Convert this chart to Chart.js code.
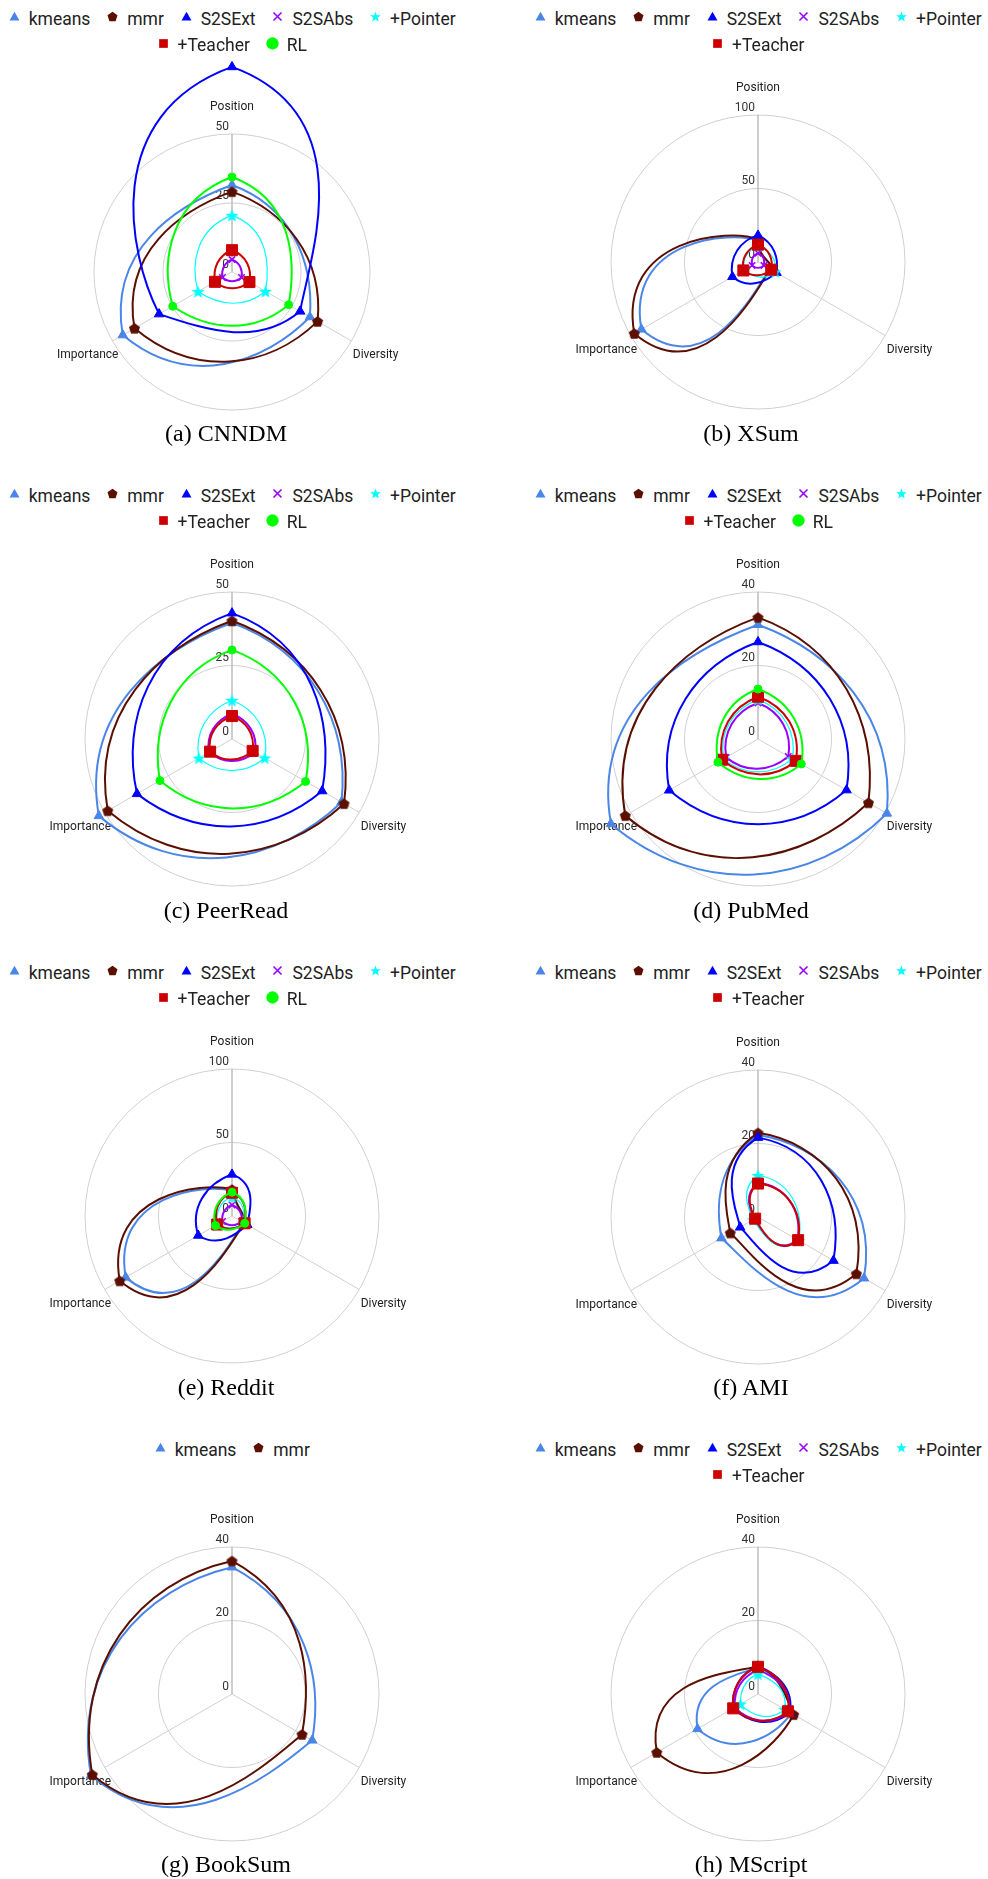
<!DOCTYPE html>
<html>
<head>
<meta charset="utf-8">
<title>Radar profiles of summarisation systems</title>
<script src="https://cdn.jsdelivr.net/npm/chart.js@4.4.1/dist/chart.umd.min.js"></script>
<style>
  html, body { margin: 0; padding: 0; background: #fff; }
  #page { position: relative; width: 988px; height: 1879px; overflow: hidden; }
  #page canvas.radar { position: absolute; }
  .legend-row { position: absolute; height: 26.7px; display: flex; justify-content: center; align-items: center; white-space: nowrap; }
  .legend-item { display: flex; align-items: center; }
  .legend-item + .legend-item { margin-left: 16.3px; }
  .legend-item canvas { width: 13px; height: 13px; margin-left: -0.5px; margin-right: 8px; position: relative; top: -2.5px; }
  .legend-item span { font-family: Roboto, sans-serif; font-size: 17.5px; line-height: 26.7px; color: #222; }
  .caption { position: absolute; width: 300px; text-align: center; font-family: "Liberation Serif", "Times New Roman", serif; font-size: 24px; line-height: 30px; color: #000; }
</style>
</head>
<body>
<div id="page"></div>
<script>
// Axes of every radar, clockwise from the top
const axes = ['Position', 'Diversity', 'Importance'];
// Systems in legend order
const methods = ['kmeans', 'mmr', 'S2SExt', 'S2SAbs', '+Pointer', '+Teacher', 'RL'];
const captions = ['(a) CNNDM', '(b) XSum', '(c) PeerRead', '(d) PubMed', '(e) Reddit', '(f) AMI', '(g) BookSum', '(h) MScript'];
const scaleMax = [50, 100, 50, 40, 100, 40, 40, 40];
const scaleStep = [25, 50, 25, 20, 50, 20, 20, 20];

// Scores per corpus: one row per system (legend order), columns follow `axes`
const cnndm = [
  [31.5, 32.6, 45.7],
  [29.1, 35.8, 40.8],
  [74.3, 28.5, 30.5],
  [4.5, 4.0, 4.0],
  [20.5, 14.0, 14.2],
  [7.9, 7.3, 7.1],
  [34.4, 23.7, 24.8]
];
const xsum = [
  [14.5, 9.5, 91.6],
  [15.5, 10.0, 97.2],
  [18.1, 14.5, 20.1],
  [6.0, 4.7, 4.7],
  [11.0, 13.5, 11.0],
  [11.8, 10.5, 11.5]
];
const peerread = [
  [39.5, 43.0, 52.3],
  [40.2, 44.0, 48.8],
  [42.8, 35.4, 37.3],
  [8.5, 9.0, 9.0],
  [13.1, 12.9, 13.0],
  [7.8, 8.1, 8.6],
  [30.3, 28.9, 28.3]
];
const pubmed = [
  [31.1, 40.5, 46.2],
  [33.1, 34.7, 41.7],
  [26.4, 27.8, 27.9],
  [9.8, 9.5, 10.0],
  [10.7, 10.8, 10.8],
  [11.5, 11.9, 11.3],
  [13.6, 13.6, 12.6]
];
const reddit = [
  [17.0, 9.5, 83.5],
  [18.0, 10.0, 88.2],
  [28.3, 12.0, 26.5],
  [7.5, 7.5, 7.5],
  [13.0, 9.0, 11.0],
  [15.8, 9.9, 11.6],
  [16.2, 10.0, 13.0]
];
const ami = [
  [22.3, 33.3, 11.5],
  [22.9, 30.9, 8.7],
  [21.6, 23.7, 5.6],
  [9.3, 12.4, 1.2],
  [11.3, 12.8, 1.5],
  [9.1, 12.6, 0.9]
];
const booksum = [
  [34.5, 25.2, 44.3],
  [36.2, 22.0, 43.9]
];
const mscript = [
  [7.2, 10.5, 19.0],
  [7.6, 11.2, 31.8],
  [7.5, 10.0, 7.8],
  [6.5, 9.6, 7.3],
  [5.4, 8.4, 5.5],
  [7.4, 9.4, 7.8]
];
const corpora = [cnndm, xsum, peerread, pubmed, reddit, ami, booksum, mscript];

// ---- styling ----
const methodColors = ['#4a86e8', '#5b0f00', '#0000ff', '#9900ff', '#00ffff', '#cc0000', '#00ff00'];
const methodLineWidths = [2, 2, 2, 2, 1.2, 2, 2];
const legendShapes = ['triangle', 'pentagon', 'triangle', 'cross', 'star', 'square', 'circle'];
const legendMarkerSize = [10, 10, 10, 8, 10.5, 8.7, 12.3];
const pointKinds = ['triangle', 'pentagon', 'triangle', 'crossRot', 'star', 'rect', 'circle'];
const pointRadii = [5.5, 5, 5.5, 4.5, 5, 7.8, 4];
const pointImageSize = [0, 11, 0, 0, 13, 0, 0];
const pointBorder = [1, 0, 1, 1.5, 0, 1, 1];

// ---- layout (page pixels) ----
const centerX = [232, 758, 232, 758, 232, 758, 232, 758];
const centerY = [272, 262, 739, 739, 1216, 1217, 1694, 1694];
const radius = [138, 147, 147, 147, 147, 147, 147, 147];
const captionX = [226, 751];
const rowPitch = 477;
const legendTop = 5.7, legendLineGap = 26.7;
const captionTop = 418.2;
const CW = 460, CH = 420, OX = 230, OY = 215;

Chart.defaults.font.family = 'Roboto';

function drawMarker(ctx, shape, x, y, size, color) {
  ctx.save();
  ctx.fillStyle = color;
  ctx.strokeStyle = color;
  ctx.beginPath();
  if (shape === 'triangle') {
    const h = size * 0.87;
    ctx.moveTo(x, y - h * 0.55);
    ctx.lineTo(x + size / 2, y + h * 0.45);
    ctx.lineTo(x - size / 2, y + h * 0.45);
    ctx.closePath();
    ctx.fill();
  } else if (shape === 'pentagon') {
    const r = size / 1.902, dy = r * 0.095;
    for (let k = 0; k < 5; k++) {
      const a = -Math.PI / 2 + k * 2 * Math.PI / 5;
      ctx.lineTo(x + r * Math.cos(a), y + dy + r * Math.sin(a));
    }
    ctx.closePath();
    ctx.fill();
  } else if (shape === 'star') {
    const ro = size / 1.902, ri = ro * 0.42, dy = ro * 0.095;
    for (let k = 0; k < 10; k++) {
      const a = -Math.PI / 2 + k * Math.PI / 5;
      const r = k % 2 ? ri : ro;
      ctx.lineTo(x + r * Math.cos(a), y + dy + r * Math.sin(a));
    }
    ctx.closePath();
    ctx.fill();
  } else if (shape === 'cross') {
    const h = size / 2;
    ctx.lineWidth = 1.6;
    ctx.moveTo(x - h, y - h); ctx.lineTo(x + h, y + h);
    ctx.moveTo(x + h, y - h); ctx.lineTo(x - h, y + h);
    ctx.stroke();
  } else if (shape === 'square') {
    ctx.rect(x - size / 2, y - size / 2, size, size);
    ctx.fill();
  } else {
    ctx.arc(x, y, size / 2, 0, Math.PI * 2);
    ctx.fill();
  }
  ctx.restore();
}

function markerImage(shape, size, color) {
  const c = document.createElement('canvas');
  const n = Math.ceil(size) + 4;
  c.width = n; c.height = n;
  drawMarker(c.getContext('2d'), shape, n / 2, n / 2, size, color);
  return c;
}

function pointStyleFor(k) {
  const kind = pointKinds[k];
  if (kind === 'pentagon' || kind === 'star') return markerImage(kind, pointImageSize[k], methodColors[k]);
  return kind;
}

// Let points and curves that reach past the outer ring stay visible
const openArea = {
  id: 'openArea',
  afterLayout(chart) {
    Object.assign(chart.chartArea, { left: 0, top: 0, right: chart.width, bottom: chart.height, width: chart.width, height: chart.height });
  }
};

// Smooth each outline along the angle: every Bezier handle sits a third of the way
// to the neighbouring spoke, with the radius following the local trend of the values
// (flat at a local peak or dip).
const polarSpline = {
  id: 'polarSpline',
  beforeDatasetsDraw(chart) {
    const s = chart.scales.r;
    const n = chart.data.labels.length;
    const step = 2 * Math.PI / n;
    const h = step / 3;
    const at = (angle, dist) => ({
      x: s.xCenter + Math.max(dist, 0) * Math.cos(angle - Math.PI / 2),
      y: s.yCenter + Math.max(dist, 0) * Math.sin(angle - Math.PI / 2)
    });
    chart.data.datasets.forEach((ds, di) => {
      const meta = chart.getDatasetMeta(di);
      const pts = meta.data;
      meta.dataset.updateControlPoints(chart.chartArea, 'r');
      const r = ds.data.map(v => s.getDistanceFromCenterForValue(v));
      const slope = r.map((ri, i) => {
        const sp = (ri - r[(i + n - 1) % n]) / step;
        const sn = (r[(i + 1) % n] - ri) / step;
        return sp * sn > 0 ? (sp + sn) / 2 : 0;
      });
      pts.forEach((p, i) => {
        const th = s.getIndexAngle(i);
        const out = at(th + h, r[i] + slope[i] * h);
        const back = at(th - h, r[i] - slope[i] * h);
        p.cp2x = out.x; p.cp2y = out.y;
        p.cp1x = back.x; p.cp1y = back.y;
      });
      meta.dataset._path = undefined;
    });
  }
};

// Tick values beside the vertical spoke and axis names around the rings
const axisText = {
  id: 'axisText',
  beforeDatasetsDraw(chart) {
    const s = chart.scales.r;
    const ctx = chart.ctx;
    const R = s.drawingArea, cx = s.xCenter, cy = s.yCenter;
    ctx.save();
    ctx.font = '12px Roboto';
    ctx.fillStyle = '#333';
    ctx.textBaseline = 'middle';
    ctx.textAlign = 'right';
    s.ticks.forEach(t => {
      const d = s.getDistanceFromCenterForValue(t.value);
      ctx.fillText(String(t.value), cx - 3, cy - d - 7.3);
    });
    ctx.fillStyle = '#222';
    const labels = chart.data.labels;
    ctx.textAlign = 'center';
    ctx.fillText(labels[0], cx, cy - R - 27);
    ctx.textAlign = 'left';
    ctx.fillText(labels[1], cx + 0.875 * R, cy + 0.6 * R);
    ctx.textAlign = 'right';
    ctx.fillText(labels[2], cx - 0.823 * R, cy + 0.6 * R);
    ctx.restore();
  }
};

const page = document.getElementById('page');

function addLegend(i, count) {
  const row = Math.floor(i / 2);
  const names = methods.slice(0, count);
  const lines = [names.slice(0, 5), names.slice(5)].filter(l => l.length);
  lines.forEach((line, li) => {
    const div = document.createElement('div');
    div.className = 'legend-row';
    div.style.left = (centerX[i] - 250) + 'px';
    div.style.width = '500px';
    div.style.top = (legendTop + row * rowPitch + li * legendLineGap) + 'px';
    line.forEach(name => {
      const k = methods.indexOf(name);
      const item = document.createElement('div');
      item.className = 'legend-item';
      const c = document.createElement('canvas');
      c.width = 13; c.height = 13;
      drawMarker(c.getContext('2d'), legendShapes[k], 6.5, 6.5, legendMarkerSize[k], methodColors[k]);
      const span = document.createElement('span');
      span.textContent = name;
      item.appendChild(c);
      item.appendChild(span);
      div.appendChild(item);
    });
    page.appendChild(div);
  });
}

function addCaption(i) {
  const row = Math.floor(i / 2);
  const div = document.createElement('div');
  div.className = 'caption';
  div.textContent = captions[i];
  div.style.left = (captionX[i % 2] - 150) + 'px';
  div.style.top = (captionTop + row * rowPitch) + 'px';
  page.appendChild(div);
}

corpora.forEach((scores, i) => {
  const R = radius[i];
  const cv = document.createElement('canvas');
  cv.className = 'radar';
  cv.width = CW; cv.height = CH;
  cv.style.left = (centerX[i] - OX) + 'px';
  cv.style.top = (centerY[i] - OY) + 'px';
  page.appendChild(cv);

  new Chart(cv, {
    type: 'radar',
    data: {
      labels: axes,
      datasets: scores.map((vals, k) => ({
        label: methods[k],
        data: vals,
        order: -k,
        clip: false,
        fill: false,
        tension: 0.5,
        borderColor: methodColors[k],
        backgroundColor: methodColors[k],
        borderWidth: methodLineWidths[k],
        pointStyle: pointStyleFor(k),
        pointRadius: pointRadii[k],
        pointBorderWidth: pointBorder[k],
        pointBackgroundColor: methodColors[k],
        pointBorderColor: methodColors[k]
      }))
    },
    options: {
      responsive: false,
      animation: false,
      events: [],
      layout: { padding: { left: OX - R, right: CW - OX - R, top: OY - R, bottom: CH - OY - R } },
      elements: { line: { capBezierPoints: false } },
      plugins: { legend: { display: false }, tooltip: { enabled: false } },
      scales: {
        r: {
          min: 0,
          max: scaleMax[i],
          ticks: { stepSize: scaleStep[i], display: false },
          pointLabels: { display: false },
          grid: { circular: true, color: '#d0d0d0', lineWidth: 1 },
          angleLines: { color: c => c.index === 0 ? '#bdbdbd' : '#d0d0d0', lineWidth: c => c.index === 0 ? 1.5 : 1 }
        }
      }
    },
    plugins: [openArea, polarSpline, axisText]
  });

  addLegend(i, scores.length);
  addCaption(i);
});
</script>
</body>
</html>
